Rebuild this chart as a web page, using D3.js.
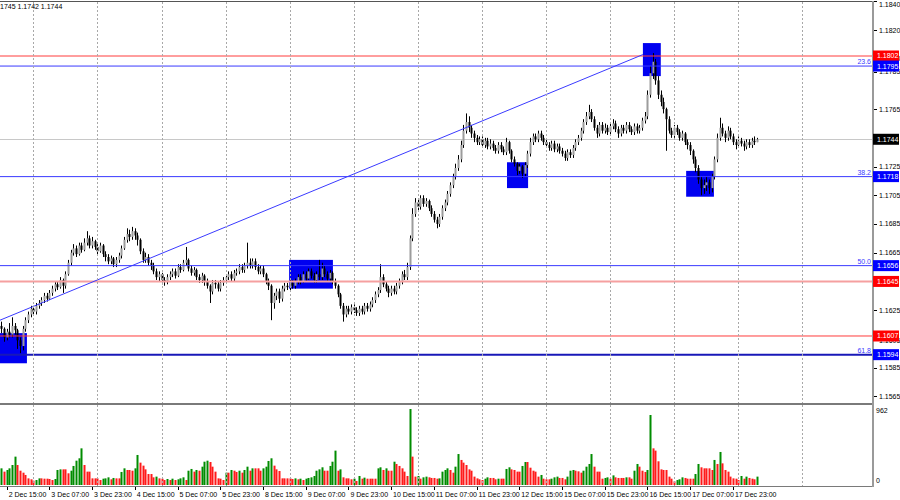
<!DOCTYPE html>
<meta charset="utf-8">
<style>
body { margin: 0; background: #fff; }
svg { display: block; font-family: "Liberation Sans", Arial, sans-serif; }
.grid { stroke: #a8a8a8; stroke-dasharray: 2,2; shape-rendering: crispEdges; }
.tick-text { font-size: 7px; fill: #000; }
</style>
<body>
<svg id="chart" width="900" height="500"></svg>
<script src="https://d3js.org/d3.v7.min.js"></script>
<script>
// EURUSD H1 bars. Prices are written as the last four digits: 1612 = 1.1612
var firstOpen = 1614;
var closes = [
1612,1606,1610,1608,1614,1611,1604,1600,1612,1618,
1622,1626,1624,1628,1630,1632,1635,1633,1637,1640,
1643,1641,1646,1642,1650,1658,1665,1668,1664,1670,
1667,1672,1675,1670,1673,1669,1666,1670,1664,1662,
1659,1661,1657,1660,1663,1668,1674,1678,1676,1680,
1677,1674,1666,1660,1662,1658,1656,1652,1648,1650,
1646,1645,1648,1650,1652,1649,1655,1653,1658,1660,
1654,1651,1653,1648,1646,1649,1645,1642,1638,1644,
1643,1640,1644,1646,1648,1650,1647,1651,1652,1655,
1653,1656,1658,1656,1659,1655,1652,1654,1650,1645,
1642,1630,1635,1638,1633,1640,1642,1641,1644,1642,
1645,1648,1645,1650,1647,1652,1649,1646,1650,1648,
1654,1650,1647,1651,1645,1642,1636,1628,1622,1626,
1624,1627,1625,1623,1626,1624,1628,1626,1629,1632,
1636,1639,1648,1643,1640,1637,1640,1638,1642,1645,
1650,1648,1655,1675,1692,1700,1697,1703,1699,1701,
1696,1692,1688,1685,1690,1696,1700,1706,1712,1718,
1724,1730,1740,1750,1756,1752,1748,1745,1742,1744,
1740,1743,1739,1741,1738,1736,1740,1737,1735,1742,
1736,1730,1727,1722,1725,1720,1726,1734,1742,1746,
1744,1748,1745,1742,1740,1738,1741,1737,1739,1736,
1734,1731,1735,1733,1738,1742,1745,1750,1756,1760,
1763,1758,1752,1748,1754,1750,1752,1749,1753,1755,
1751,1748,1752,1750,1754,1751,1749,1753,1750,1752,
1757,1760,1775,1790,1798,1785,1775,1770,1765,1758,
1750,1747,1752,1749,1745,1748,1742,1740,1736,1730,
1724,1716,1710,1712,1714,1710,1718,1730,1745,1752,
1748,1745,1750,1746,1742,1740,1743,1741,1739,1742,
1740,1743,1742,1744
];
var highs = [
1617,1613,1612,1616,1620,1616,1612,1606,1614,1620,
1624,1628,1628,1630,1632,1634,1637,1637,1639,1642,
1645,1645,1648,1647,1652,1660,1667,1671,1670,1672,
1672,1675,1680,1677,1676,1674,1671,1672,1671,1666,
1664,1663,1662,1662,1665,1670,1676,1682,1681,1683,
1682,1679,1675,1668,1665,1664,1660,1658,1654,1652,
1651,1648,1650,1652,1654,1654,1657,1657,1660,1669,
1661,1656,1655,1654,1650,1651,1650,1647,1643,1646,
1646,1645,1646,1648,1650,1652,1652,1653,1654,1657,
1657,1658,1672,1661,1661,1661,1657,1656,1656,1651,
1647,1643,1637,1640,1640,1642,1644,1644,1646,1646,
1647,1650,1650,1652,1652,1654,1654,1651,1652,1660,
1658,1656,1652,1653,1652,1647,1643,1637,1630,1628,
1628,1629,1629,1627,1628,1628,1630,1630,1631,1634,
1638,1641,1657,1650,1645,1642,1642,1642,1644,1647,
1652,1653,1658,1677,1696,1703,1702,1705,1705,1703,
1702,1698,1694,1690,1692,1698,1702,1708,1714,1720,
1727,1733,1743,1754,1762,1760,1754,1750,1747,1746,
1746,1745,1745,1744,1743,1740,1742,1742,1739,1745,
1743,1737,1732,1728,1727,1726,1728,1736,1745,1748,
1748,1750,1750,1747,1744,1742,1743,1743,1741,1741,
1738,1736,1737,1737,1740,1744,1747,1752,1758,1763,
1768,1765,1760,1754,1756,1756,1755,1754,1755,1758,
1757,1753,1754,1754,1756,1756,1753,1755,1755,1754,
1759,1763,1778,1795,1804,1800,1788,1778,1773,1766,
1760,1752,1754,1754,1751,1750,1749,1744,1742,1737,
1732,1726,1718,1716,1718,1716,1720,1732,1748,1759,
1755,1750,1753,1752,1748,1744,1746,1745,1743,1744,
1744,1745,1746,1745
];
var lows = [
1609,1603,1604,1606,1606,1608,1598,1595,1597,1610,
1616,1620,1621,1622,1626,1628,1630,1631,1632,1635,
1638,1639,1640,1637,1640,1649,1656,1663,1662,1663,
1665,1666,1670,1668,1668,1667,1664,1665,1662,1659,
1657,1657,1655,1655,1658,1661,1667,1672,1673,1674,
1674,1670,1664,1658,1658,1656,1653,1650,1646,1645,
1643,1642,1643,1646,1648,1647,1648,1651,1652,1656,
1652,1649,1649,1646,1644,1644,1642,1640,1630,1636,
1640,1638,1638,1642,1644,1646,1645,1645,1649,1650,
1651,1651,1654,1654,1654,1653,1650,1650,1648,1643,
1639,1618,1626,1632,1630,1631,1638,1639,1639,1640,
1640,1643,1643,1644,1645,1646,1647,1644,1644,1646,
1646,1648,1645,1645,1643,1640,1634,1626,1617,1620,
1622,1622,1623,1621,1621,1622,1622,1624,1624,1627,
1630,1634,1637,1641,1638,1634,1635,1636,1636,1640,
1643,1646,1646,1653,1673,1690,1694,1695,1697,1697,
1694,1690,1686,1682,1683,1688,1694,1698,1704,1710,
1716,1722,1728,1738,1748,1749,1745,1742,1740,1740,
1738,1738,1737,1737,1736,1734,1734,1735,1733,1733,
1734,1728,1725,1719,1720,1717,1718,1724,1732,1740,
1742,1742,1743,1740,1738,1736,1736,1735,1735,1734,
1732,1729,1729,1731,1731,1736,1740,1743,1748,1754,
1758,1756,1750,1745,1746,1748,1748,1747,1747,1751,
1749,1745,1746,1748,1748,1749,1747,1747,1748,1748,
1750,1755,1758,1773,1786,1782,1772,1767,1762,1736,
1748,1745,1745,1747,1743,1743,1740,1737,1733,1727,
1721,1713,1705,1706,1708,1706,1707,1716,1728,1743,
1746,1742,1743,1744,1740,1737,1738,1739,1736,1737,
1738,1738,1740,1742
];
// tick volumes
var volumes = [
211,169,190,211,253,359,253,181,156,127,
84,72,55,63,84,84,80,80,76,63,
76,190,198,198,198,148,181,241,308,338,
464,253,169,169,84,84,84,63,80,84,
97,72,89,84,84,165,211,190,190,181,
211,380,283,245,198,139,139,97,106,84,
80,63,76,63,80,63,72,84,97,63,
181,203,169,190,181,232,295,308,291,232,
169,84,80,63,156,156,190,181,165,181,
156,190,232,181,211,211,211,181,211,232,
304,338,245,198,177,84,84,84,84,76,
84,72,80,63,80,89,97,114,181,198,
224,181,181,241,295,435,181,198,97,84,
84,72,80,51,114,80,93,80,80,80,
80,211,224,190,211,181,181,295,266,241,
211,169,114,962,359,106,114,80,97,106,
97,89,89,80,84,169,190,211,190,
156,232,392,317,283,253,198,181,106,84,
72,63,80,97,89,89,72,80,80,80,
203,224,198,190,169,169,241,291,291,219,
181,169,106,127,80,72,72,80,97,106,
89,89,72,106,181,190,181,173,156,181,
232,266,392,232,169,169,80,89,97,80,
122,97,89,89,89,97,97,80,181,266,
232,181,165,190,886,464,435,300,198,190,
190,106,80,46,63,72,97,89,80,80,
80,139,266,224,211,211,211,190,317,266,
418,274,190,169,106,84,80,63,114,80,
106,89,80,72,106
];

// time labels, one every 16 bars starting at bar 2
var dateLabels = ["2 Dec 15:00","3 Dec 07:00","3 Dec 23:00","4 Dec 15:00","5 Dec 07:00",
  "5 Dec 23:00","8 Dec 15:00","9 Dec 07:00","9 Dec 23:00","10 Dec 15:00","11 Dec 07:00",
  "11 Dec 23:00","12 Dec 15:00","15 Dec 07:00","15 Dec 23:00","16 Dec 15:00",
  "17 Dec 07:00","17 Dec 23:00"];
var firstLabelBar = 2, labelStep = 16;
var gridFirstBar = 12, gridStep = 24, gridCount = 13;

// right price scale (labels hidden under the coloured tags are left out)
var priceTicks = [1840,1820,1800,1791,1765,1725,1705,1685,1665,1625,1604,1585,1565];
var priceTickText = ["1.1840","1.1820","1.1800","1.1785","1.1765","1.1725","1.1705",
  "1.1685","1.1665","1.1625","1.1605","1.1585","1.1565"];
var volumeTicks = [962, 0];

// drawn objects
var redLevels = [1802, 1645, 1607];
var fibNames = ["23.6", "38.2", "50.0", "61.8"];
var fibPrices = [1795, 1718, 1656, 1594];
var currentPrice = 1744;
var zoneBars = [[-0.5, 9.6], [107.8, 124.2], [189.4, 197.3], [240.3, 247], [256.5, 266.9]];
var zonePrices = [[1609, 1588], [1660, 1640], [1728, 1710], [1811, 1788], [1722, 1704]];
var trendBars = [-0.5, 240.3];
var trendPrices = [1618, 1803];
var headerText = "1745 1.1742 1.1744";

function fmt(p) { return (1 + p / 10000).toFixed(4); }

var svg = d3.select("#chart");
var plotRight = 872;

var x = d3.scaleLinear().domain([0, 300]).range([1.3, 802.3]);
var y = d3.scaleLinear().domain([1565, 1802]).range([396.3, 56]);
var yv = d3.scaleLinear().domain([0, 962]).range([485, 409]);

var bars = closes.map(function(c, i) {
  return { i: i, o: i ? closes[i - 1] : firstOpen, h: highs[i], l: lows[i], c: c, v: volumes[i],
           up: i ? volumes[i] > volumes[i - 1] : true };
});

var defs = svg.append("defs");
defs.append("clipPath").attr("id", "clipMain").append("rect")
  .attr("x", 0).attr("y", 2).attr("width", plotRight).attr("height", 401);
defs.append("clipPath").attr("id", "clipVol").append("rect")
  .attr("x", 0).attr("y", 405).attr("width", plotRight).attr("height", 81);

var main = svg.append("g").attr("clip-path", "url(#clipMain)");
var vol = svg.append("g").attr("clip-path", "url(#clipVol)");

// vertical dotted grid
var gridBars = d3.range(gridCount).map(function(k) { return gridFirstBar + k * gridStep; });
[[2, 403], [405, 486]].forEach(function(r) {
  svg.append("g").selectAll("line").data(gridBars).enter().append("line")
    .attr("class", "grid")
    .attr("x1", function(d) { return Math.round(x(d)) + 0.5; })
    .attr("x2", function(d) { return Math.round(x(d)) + 0.5; })
    .attr("y1", r[0]).attr("y2", r[1]);
});

// current price line
main.append("line")
  .attr("x1", 0).attr("x2", plotRight)
  .attr("y1", Math.round(y(currentPrice)) + 0.5).attr("y2", Math.round(y(currentPrice)) + 0.5)
  .attr("stroke", "#c8c8c8");

// blue zones
main.selectAll(".zone").data(zoneBars).enter().append("rect")
  .attr("class", "zone")
  .attr("x", function(d) { return x(d[0]); })
  .attr("width", function(d) { return x(d[1]) - x(d[0]); })
  .attr("y", function(d, i) { return y(zonePrices[i][0]); })
  .attr("height", function(d, i) { return y(zonePrices[i][1]) - y(zonePrices[i][0]); })
  .attr("fill", "#0000f0");

// candles
var candle = main.selectAll(".candle").data(bars).enter().append("g").attr("class", "candle");
candle.append("line")
  .attr("x1", function(d) { return Math.round(x(d.i)) + 0.5; })
  .attr("x2", function(d) { return Math.round(x(d.i)) + 0.5; })
  .attr("y1", function(d) { return y(d.h); })
  .attr("y2", function(d) { return y(d.l); })
  .attr("stroke", "#000");
candle.append("rect")
  .attr("x", function(d) { return Math.round(x(d.i)) - 0.5; })
  .attr("width", 2)
  .attr("y", function(d) { return y(Math.max(d.o, d.c)); })
  .attr("height", function(d) { return Math.max(1, Math.abs(y(d.o) - y(d.c))); })
  .attr("fill", function(d) { return d.c >= d.o ? "#9c9c9c" : "#000"; });

// horizontal levels
main.selectAll(".red").data(redLevels).enter().append("line")
  .attr("x1", 0).attr("x2", plotRight)
  .attr("y1", function(d) { return y(d); }).attr("y2", function(d) { return y(d); })
  .attr("stroke", function(d, i) { return i === 1 ? "#f5a0a0" : "#ff3c3c"; })
  .attr("stroke-width", function(d, i) { return i === 1 ? 2 : 1; });
main.selectAll(".fib").data(fibPrices).enter().append("line")
  .attr("x1", 0).attr("x2", plotRight)
  .attr("y1", function(d) { return y(d); }).attr("y2", function(d) { return y(d); })
  .attr("stroke", function(d, i) { return i === 3 ? "#1818b8" : "#3a3aff"; })
  .attr("stroke-width", function(d, i) { return i === 3 ? 2 : 1; });
main.selectAll(".fibname").data(fibNames).enter().append("text")
  .attr("class", "tick-text")
  .attr("x", plotRight - 1).attr("y", function(d, i) { return y(fibPrices[i]) - 2; })
  .attr("text-anchor", "end").style("fill", "#3a3aff")
  .text(function(d) { return d; });

// trend line
main.append("line")
  .attr("x1", x(trendBars[0])).attr("y1", y(trendPrices[0]))
  .attr("x2", x(trendBars[1])).attr("y2", y(trendPrices[1]))
  .attr("stroke", "#3a3aff").attr("stroke-width", 1);

// volumes
vol.selectAll(".vbar").data(bars).enter().append("rect")
  .attr("x", function(d) { return Math.round(x(d.i)) - 0.5; })
  .attr("width", 2)
  .attr("y", function(d) { return yv(d.v); })
  .attr("height", function(d) { return yv(0) - yv(d.v); })
  .attr("fill", function(d) { return d.up ? "#008c00" : "#ff1a1a"; });

// frame
svg.append("line").attr("x1", 0).attr("x2", plotRight + 1).attr("y1", 1.5).attr("y2", 1.5)
  .attr("stroke", "#555");
svg.append("rect").attr("x", 0).attr("y", 403).attr("width", plotRight + 1).attr("height", 2)
  .attr("fill", "#7a7a7a");
svg.append("line").attr("x1", 0).attr("x2", plotRight + 1).attr("y1", 486.5).attr("y2", 486.5)
  .attr("stroke", "#7a7a7a");
svg.append("rect").attr("x", plotRight).attr("y", 1).attr("width", 2).attr("height", 486)
  .attr("fill", "#9a9a9a");

// price axis labels
var pa = svg.append("g");
pa.selectAll("line").data(priceTicks).enter().append("line")
  .attr("x1", plotRight + 2).attr("x2", plotRight + 5)
  .attr("y1", function(d) { return Math.round(y(d)) + 0.5; })
  .attr("y2", function(d) { return Math.round(y(d)) + 0.5; })
  .attr("stroke", "#000");
pa.selectAll("text").data(priceTicks).enter().append("text")
  .attr("class", "tick-text")
  .attr("x", plotRight + 7).attr("y", function(d) { return Math.max(5, y(d)); }).attr("dy", "0.35em")
  .text(function(d, i) { return priceTickText[i]; });

// coloured price tags
var tags = [];
redLevels.forEach(function(p) { tags.push({ p: p, c: "#ff0000" }); });
fibPrices.forEach(function(p) { tags.push({ p: p, c: "#0000ff" }); });
tags.push({ p: currentPrice, c: "#000" });
var tag = svg.append("g").selectAll("g").data(tags).enter().append("g");
tag.append("rect")
  .attr("x", plotRight + 1).attr("width", 26)
  .attr("y", function(d) { return y(d.p) - 5.5; }).attr("height", 11)
  .attr("fill", function(d) { return d.c; });
tag.append("text")
  .attr("class", "tick-text").style("fill", "#fff")
  .attr("x", plotRight + 5).attr("y", function(d) { return y(d.p); }).attr("dy", "0.35em")
  .text(function(d) { return fmt(d.p); });

// volume axis labels
svg.append("g").selectAll("text").data(volumeTicks).enter().append("text")
  .attr("class", "tick-text")
  .attr("x", plotRight + 4).attr("y", function(d) { return d ? yv(d) + 2 : yv(d) - 4; })
  .attr("dy", "0.35em")
  .text(function(d) { return d; });

// time labels
var tl = svg.append("g").selectAll("g").data(dateLabels).enter().append("g");
tl.append("line")
  .attr("x1", function(d, k) { return Math.round(x(firstLabelBar + k * labelStep)) + 0.5; })
  .attr("x2", function(d, k) { return Math.round(x(firstLabelBar + k * labelStep)) + 0.5; })
  .attr("y1", 487).attr("y2", 490).attr("stroke", "#000");
tl.append("text")
  .attr("class", "tick-text")
  .attr("x", function(d, k) { return x(firstLabelBar + k * labelStep) + 2; })
  .attr("y", 495).attr("dy", "0.35em")
  .text(function(d) { return d; });

// header
svg.append("text").attr("class", "tick-text").attr("x", 0).attr("y", 7)
  .attr("dy", "0.35em").text(headerText);
</script>
</body>
